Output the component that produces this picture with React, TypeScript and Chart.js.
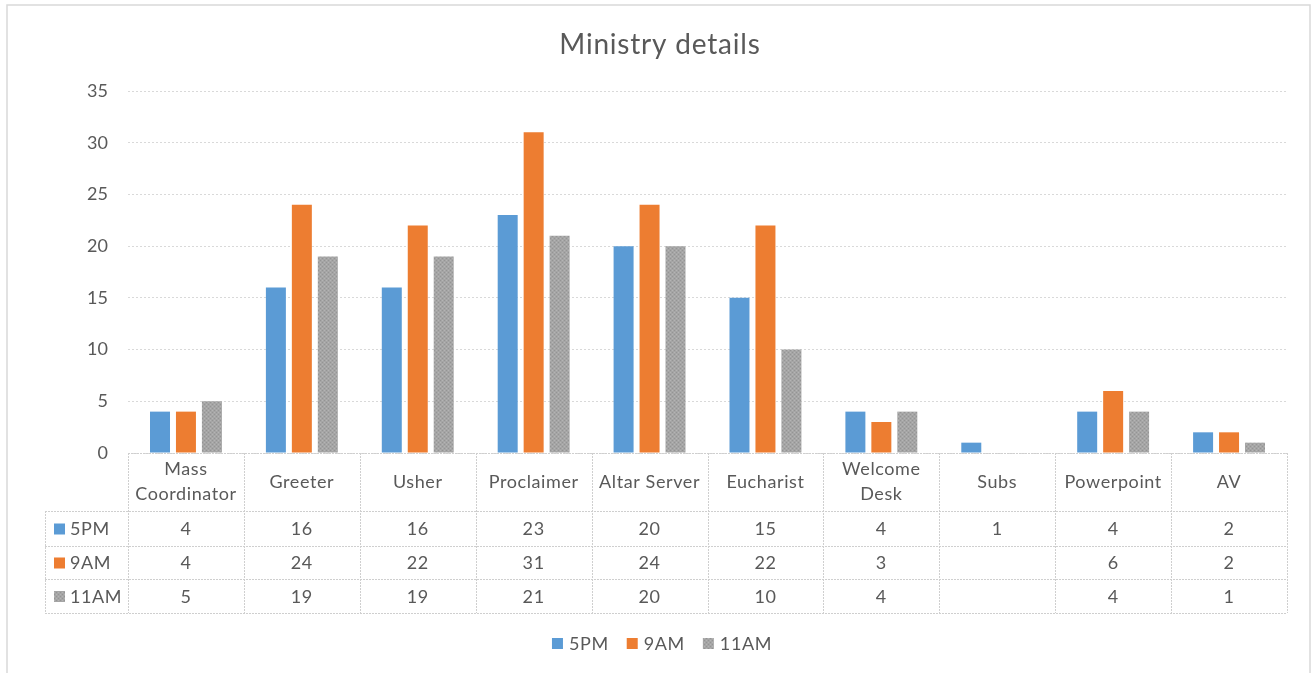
import React, { useEffect, useRef } from "react";
import { Chart, registerables } from "chart.js";

Chart.register(...registerables);

const TITLE = "Ministry details";
const categories: (string | string[])[] = [
  ["Mass", "Coordinator"],
  "Greeter",
  "Usher",
  "Proclaimer",
  "Altar Server",
  "Eucharist",
  ["Welcome", "Desk"],
  "Subs",
  "Powerpoint",
  "AV",
];
const seriesNames = ["5PM", "9AM", "11AM"];
const values5PM: (number | null)[] = [4, 16, 16, 23, 20, 15, 4, 1, 4, 2];
const values9AM: (number | null)[] = [4, 24, 22, 31, 24, 22, 3, null, 6, 2];
const values11AM: (number | null)[] = [5, 19, 19, 21, 20, 10, 4, null, 4, 1];
const yTicks = [0, 5, 10, 15, 20, 25, 30, 35];

const COLORS = ["#5B9BD5", "#ED7D31", "#A5A5A5"];
const TEXT = "#595959";
const LINE = "#D9D9D9";
const FONT = "Lato, 'Open Sans', sans-serif";

function makePattern(): CanvasPattern | string {
  const c = document.createElement("canvas");
  c.width = 4;
  c.height = 4;
  const g = c.getContext("2d");
  if (!g) return COLORS[2];
  g.fillStyle = "#A5A5A5";
  g.fillRect(0, 0, 4, 4);
  g.fillStyle = "#949494";
  g.fillRect(0, 0, 1, 1);
  g.fillRect(2, 2, 1, 1);
  g.fillStyle = "#B4B4B4";
  g.fillRect(2, 0, 1, 1);
  g.fillRect(0, 2, 1, 1);
  const p = g.createPattern(c, "repeat");
  return p || COLORS[2];
}

export default function App() {
  const ref = useRef<HTMLCanvasElement | null>(null);

  useEffect(() => {
    document.body.style.margin = "0";
    const canvas = ref.current;
    if (!canvas) return;
    const grayFill = makePattern();
    const seriesValues = [values5PM, values9AM, values11AM];

    const tablePlugin = {
      id: "excelDecor",
      afterDraw(chart: any) {
        const ctx: any = chart.ctx;
        const xs = chart.scales.x;
        const area = chart.chartArea;
        const n = categories.length;
        const colW = (area.right - area.left) / n;
        const top = area.bottom;
        const rowEdges = [top, top + 58, top + 93, top + 126, top + 160];
        const leftEdge = 45;

        ctx.save();
        // outer border
        ctx.strokeStyle = LINE;
        ctx.lineWidth = 1.5;
        ctx.setLineDash([]);
        ctx.strokeRect(7, 5, 1303, 700);

        // title
        ctx.fillStyle = TEXT;
        ctx.font = `28px ${FONT}`;
        ctx.letterSpacing = "0.8px";
        ctx.textAlign = "center";
        ctx.textBaseline = "middle";
        ctx.fillText(TITLE, 660, 45);

        // table grid
        ctx.strokeStyle = "#CFCFCF";
        ctx.lineWidth = 1;
        ctx.setLineDash([2, 1]);
        ctx.beginPath();
        ctx.moveTo(area.left, rowEdges[0] + 0.5);
        ctx.lineTo(area.right, rowEdges[0] + 0.5);
        for (let r = 1; r < rowEdges.length; r++) {
          ctx.moveTo(leftEdge, rowEdges[r] + 0.5);
          ctx.lineTo(area.right, rowEdges[r] + 0.5);
        }
        for (let i = 0; i <= n; i++) {
          const x = Math.round(area.left + i * colW) + 0.5;
          ctx.moveTo(x, rowEdges[0]);
          ctx.lineTo(x, rowEdges[4]);
        }
        ctx.moveTo(leftEdge + 0.5, rowEdges[1]);
        ctx.lineTo(leftEdge + 0.5, rowEdges[4]);
        ctx.stroke();
        ctx.setLineDash([]);

        // header labels
        ctx.fillStyle = TEXT;
        ctx.font = `18px ${FONT}`;
        ctx.letterSpacing = "0.6px";
        ctx.textAlign = "center";
        ctx.textBaseline = "middle";
        const headerMid = (rowEdges[0] + rowEdges[1]) / 2;
        categories.forEach((c, i) => {
          const cx = xs.getPixelForValue(i);
          if (Array.isArray(c)) {
            const lh = 25;
            c.forEach((line, k) => {
              ctx.fillText(line, cx, headerMid + (k - (c.length - 1) / 2) * lh);
            });
          } else {
            ctx.fillText(c, cx, headerMid);
          }
        });

        // rows
        seriesValues.forEach((vals, s) => {
          const mid = (rowEdges[s + 1] + rowEdges[s + 2]) / 2;
          ctx.fillStyle = s === 2 ? grayFill : COLORS[s];
          ctx.fillRect(54, mid - 5, 11, 11);
          ctx.fillStyle = TEXT;
          ctx.textAlign = "left";
          ctx.fillText(seriesNames[s], 70, mid + 1);
          ctx.textAlign = "center";
          vals.forEach((v, i) => {
            if (v === null || v === undefined) return;
            ctx.fillText(String(v), xs.getPixelForValue(i), mid + 1);
          });
        });

        // bottom legend
        const legY = 643;
        ctx.textAlign = "left";
        const widths = seriesNames.map((t) => ctx.measureText(t).width);
        const box = 11;
        const gapBoxText = 6;
        const gapItems = 18;
        let total = 0;
        widths.forEach((w, i) => {
          total += box + gapBoxText + w + (i < widths.length - 1 ? gapItems : 0);
        });
        let lx = 662 - total / 2;
        seriesNames.forEach((t, s) => {
          ctx.fillStyle = s === 2 ? grayFill : COLORS[s];
          ctx.fillRect(lx, legY - 5, box, box);
          ctx.fillStyle = TEXT;
          ctx.fillText(t, lx + box + gapBoxText, legY + 1);
          lx += box + gapBoxText + widths[s] + gapItems;
        });
        ctx.restore();
      },
    };

    const chart = new Chart(canvas, {
      type: "bar",
      data: {
        labels: categories.map((c) => (Array.isArray(c) ? c.join(" ") : c)),
        datasets: seriesValues.map((vals, s) => ({
          label: seriesNames[s],
          data: vals,
          backgroundColor: s === 2 ? (grayFill as any) : COLORS[s],
          borderWidth: 0,
          categoryPercentage: 0.672,
          barPercentage: 0.77,
        })),
      },
      options: {
        responsive: false,
        animation: false,
        layout: { padding: { left: 0, top: 91, right: 25, bottom: 220 } },
        plugins: {
          legend: { display: false },
          title: { display: false },
          tooltip: { enabled: false },
        },
        scales: {
          x: { display: false },
          y: {
            min: 0,
            max: 35,
            afterFit: (scale: any) => {
              scale.width = 128;
            },
            afterBuildTicks: (scale: any) => {
              scale.ticks = yTicks.map((v) => ({ value: v }));
            },
            ticks: {
              color: TEXT,
              padding: 20,
              font: { family: FONT, size: 18 },
            },
            grid: {
              color: LINE,
              drawTicks: false,
              lineWidth: 1,
            },
            border: { display: false, dash: [2, 2] },
          },
        },
      },
      plugins: [tablePlugin],
    });

    return () => chart.destroy();
  }, []);

  return (
    <div style={{ position: "absolute", left: 0, top: 0, width: 1312, height: 673, background: "#fff" }}>
      <canvas ref={ref} width={1312} height={673} style={{ display: "block" }} />
    </div>
  );
}
